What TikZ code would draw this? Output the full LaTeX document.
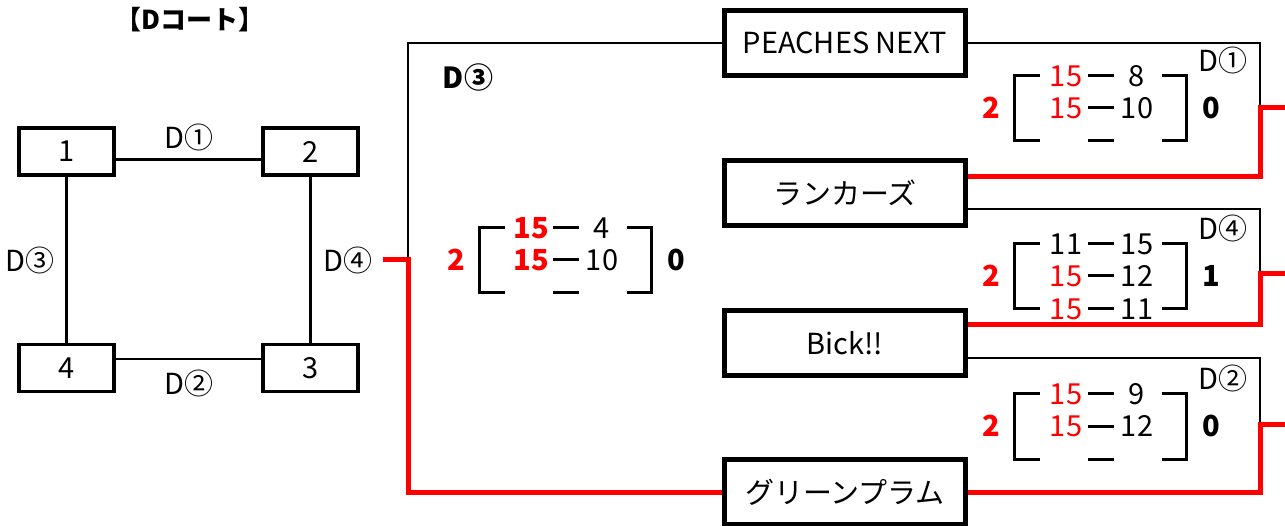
\documentclass[tikz,border=0pt]{standalone}
\usepackage{fontspec}
\setmainfont{Noto Sans CJK JP}
\usetikzlibrary{positioning}
\definecolor{winred}{RGB}{255,0,0}

\tikzset{
  court/.style={draw,line width=3.5pt,minimum width=95pt,minimum height=47pt,inner sep=0pt},
  team/.style={draw,line width=5pt,minimum width=241pt,minimum height=65pt,inner sep=0pt},
  link/.style={line width=2.5pt},
  winlink/.style={line width=5pt,winred},
  bracket/.style={line width=3pt},
  wintotal/.style={text=winred,font=\fontsize{29}{30}\selectfont\bfseries},
  losetotal/.style={font=\fontsize{29}{30}\selectfont\bfseries},
}
\newcommand{\win}[1]{\textcolor{winred}{#1}}

% one block of set scores: name, centre, totals, rows
\newcommand{\scoreset}[5]{%
  \begin{scope}[shift={#2}]
    \draw[bracket] (-61,-32) -| (-87,33) -- (-61,33);
    \draw[bracket] (61,-32) -| (85,33) -- (61,33);
    \node[wintotal] (#1-win) at (-110,0) {#3};
    \node[losetotal] (#1-lose) at (110,0) {#4};
    \foreach \dy/\a/\b [count=\i] in {#5} {
      \draw[bracket] (-13,\dy) -- (13,\dy);
      \node (#1-a\i) at (-35,\dy) {\a};
      \node (#1-b\i) at (36,\dy) {\b};
    }
  \end{scope}}

\begin{document}
\begin{tikzpicture}[x=1pt,y=-1pt,every node/.style={font=\fontsize{29}{30}\selectfont}]
  \useasboundingbox (0,0) rectangle (1285,526);

  % court
  \node[font=\fontsize{26}{28}\selectfont\bfseries] (title) at (190,20) {【Dコート】};
  \node[court] (b1) at (66.5,151.5) {1};
  \node[court] (b2) at (310.5,151.5) {2};
  \node[court] (b3) at (310.5,368) {3};
  \node[court] (b4) at (66.5,368) {4};

  \draw[link] ([yshift=-8pt]b1.east) -- ([yshift=-8pt]b2.west);
  \draw[link] (b1) -- (b4);
  \draw[link] (b2) -- (b3);
  \draw[link] ([yshift=9pt]b4.east) -- ([yshift=9pt]b3.west);

  \node (c1) at (189,137) {D①};
  \node (c2) at (189,383) {D②};
  \node (c3) at (30,260) {D③};
  \node (c4) at (348,260) {D④};

  % teams
  \node[team] (peach) at (845,43) {PEACHES NEXT};
  \node[team] (lancers) at (845,193) {ランカーズ};
  \node[team] (bick) at (845,343) {Bick!!};
  \node[team] (green) at (845,492) {グリーンプラム};

  \coordinate (d3) at (408,260);
  \coordinate (d3out) at (383,260);
  \coordinate (d1) at (1260,108);
  \coordinate (d1out) at (1286,108);
  \coordinate (d4) at (1260,274);
  \coordinate (d4out) at (1286,274);
  \coordinate (d2) at (1260,424);
  \coordinate (d2out) at (1286,424);

  \draw[link] (peach.west) -| (d3);
  \draw[winlink] (green.west) -| (d3) -- (d3out);

  \draw[link] (peach.east) -| (d1);
  \draw[winlink] ([yshift=16pt]lancers.east) -| (d1) -- (d1out);
  \draw[link] ([yshift=-16pt]lancers.east) -| (d4);
  \draw[winlink] ([yshift=18pt]bick.east) -| (d4) -- (d4out);
  \draw[link] ([yshift=-15pt]bick.east) -| (d2);
  \draw[winlink] (green.east) -| (d2) -- (d2out);

  % round labels
  \node[font=\fontsize{29}{30}\selectfont\bfseries] (r3) at (468,77) {D③};
  \node (r1) at (1223,60) {D①};
  \node (r4) at (1223,228) {D④};
  \node (r2) at (1223,378) {D②};

  % scores
  \scoreset{s3}{(566,260)}{2}{0}{-32/{\win{\bfseries 15}}/4, 0/{\win{\bfseries 15}}/10, 33/{}/{}}
  \scoreset{s1}{(1101,108)}{2}{0}{-32/{\win{15}}/8, 0/{\win{15}}/10, 33/{}/{}}
  \scoreset{s4}{(1101,276)}{2}{1}{-32/11/15, 0/{\win{15}}/12, 33/{\win{15}}/11}
  \scoreset{s2}{(1101,426)}{2}{0}{-32/{\win{15}}/9, 0/{\win{15}}/12, 33/{}/{}}
\end{tikzpicture}
\end{document}
